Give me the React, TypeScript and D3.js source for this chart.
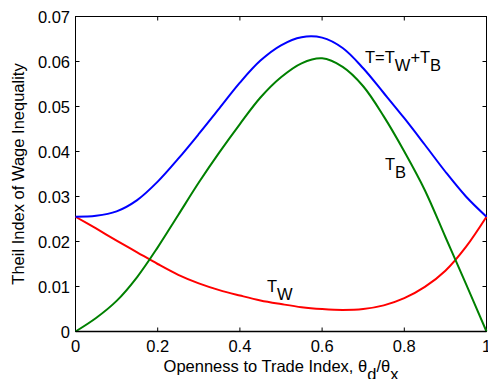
import React, { useEffect, useRef } from 'react'
import * as d3 from 'd3'

// openness index samples
const openness = [0, 0.05, 0.1, 0.15, 0.2, 0.25, 0.3, 0.35, 0.4, 0.45, 0.5,
  0.55, 0.6, 0.65, 0.7, 0.75, 0.8, 0.85, 0.9, 0.95, 1]

// T = Tw + Tb (blue)
const theilTotal = [0.0255, 0.0257, 0.0267, 0.0292, 0.0333, 0.0384, 0.0439, 0.0496, 0.0553, 0.0602, 0.0636,
  0.0654, 0.0653, 0.0630, 0.0585, 0.0530, 0.0474, 0.0415, 0.0355, 0.0300, 0.0255]

// Tw within (red)
const theilWithin = [0.0255, 0.0229, 0.0202, 0.0176, 0.0150, 0.0126, 0.0107, 0.0092, 0.0080, 0.0069, 0.0061,
  0.0054, 0.0050, 0.0048, 0.0050, 0.0058, 0.0074, 0.0099, 0.0135, 0.0188, 0.0255]

// Tb between (green)
const theilBetween = [0, 0.0030, 0.0068, 0.0121, 0.0187, 0.0259, 0.0331, 0.0398, 0.0461, 0.0520, 0.0565,
  0.0596, 0.0607, 0.0588, 0.0545, 0.0478, 0.0400, 0.0314, 0.0210, 0.0106, 0]

const xTicks = [0, 0.2, 0.4, 0.6, 0.8, 1]
const yTicks = [0, 0.01, 0.02, 0.03, 0.04, 0.05, 0.06, 0.07]

const FONT = '"Liberation Sans", Arial, sans-serif'

export default function App() {
  const ref = useRef<SVGSVGElement>(null)

  useEffect(() => {
    const svg = d3.select(ref.current)
    svg.selectAll('*').remove()

    const left = 75.5, right = 486.5, top = 16.5, bottom = 331.5
    const x = d3.scaleLinear().domain([0, 1]).range([left, right])
    const y = d3.scaleLinear().domain([0, 0.07]).range([bottom, top])

    svg.append('rect').attr('width', 488).attr('height', 379).attr('fill', '#fff')

    // frame
    svg.append('rect')
      .attr('x', left).attr('y', top)
      .attr('width', right - left).attr('height', bottom - top)
      .attr('fill', 'none').attr('stroke', '#000').attr('stroke-width', 1)

    // ticks, inward on all four sides
    const tickLen = 4
    xTicks.forEach(t => {
      svg.append('line').attr('x1', x(t)).attr('x2', x(t)).attr('y1', bottom).attr('y2', bottom - tickLen)
        .attr('stroke', '#000')
      svg.append('line').attr('x1', x(t)).attr('x2', x(t)).attr('y1', top).attr('y2', top + tickLen)
        .attr('stroke', '#000')
      svg.append('text').attr('x', x(t)).attr('y', 352)
        .attr('text-anchor', 'middle').attr('font-family', FONT).attr('font-size', 16.5)
        .text(d3.format('~g')(t))
    })
    yTicks.forEach(t => {
      svg.append('line').attr('x1', left).attr('x2', left + tickLen).attr('y1', y(t)).attr('y2', y(t))
        .attr('stroke', '#000')
      svg.append('line').attr('x1', right).attr('x2', right - tickLen).attr('y1', y(t)).attr('y2', y(t))
        .attr('stroke', '#000')
      svg.append('text').attr('x', 70).attr('y', y(t) + 6)
        .attr('text-anchor', 'end').attr('font-family', FONT).attr('font-size', 16.5)
        .text(t === 0 ? '0' : d3.format('.2f')(t))
    })

    const line = d3.line<number>()
      .x((d, i) => x(openness[i]))
      .y(d => y(d))
      .curve(d3.curveCatmullRom.alpha(0.5))

    const series: [number[], string][] = [
      [theilWithin, '#ff0000'],
      [theilBetween, '#008000'],
      [theilTotal, '#0000ff'],
    ]
    series.forEach(([vals, color]) => {
      svg.append('path').attr('d', line(vals) as string)
        .attr('fill', 'none').attr('stroke', color).attr('stroke-width', 2)
    })

    // bottom axis line over the curves
    svg.append('line').attr('x1', left).attr('x2', right).attr('y1', bottom).attr('y2', bottom)
      .attr('stroke', '#000').attr('stroke-width', 1.5)

    // annotations with subscripts
    const label = (px: number, py: number, parts: [string, boolean][]) => {
      const txt = svg.append('text').attr('x', px).attr('y', py)
        .attr('font-family', FONT).attr('font-size', 16.5)
      let sub = false
      parts.forEach(([s, isSub]) => {
        const ts = txt.append('tspan').text(s)
        if (isSub && !sub) ts.attr('dy', 8)
        if (!isSub && sub) ts.attr('dy', -8)
        sub = isSub
      })
      return txt
    }
    label(365, 63, [['T=T', false], ['W', true], ['+T', false], ['B', true]])
    label(385, 170, [['T', false], ['B', true]])
    label(267, 291.5, [['T', false], ['W', true]])

    // axis titles
    const xt = label(281, 371.5, [['Openness to Trade Index, θ', false], ['d', true], ['/θ', false], ['x', true]])
    xt.attr('text-anchor', 'middle')

    svg.append('text')
      .attr('transform', `translate(23.5, ${(top + bottom) / 2}) rotate(-90)`)
      .attr('text-anchor', 'middle').attr('font-family', FONT).attr('font-size', 16.5)
      .text('Theil Index of Wage Inequality')
  }, [])

  return (
    <svg ref={ref} width={488} height={379}
      style={{ position: 'absolute', left: 0, top: 0, display: 'block' }} />
  )
}
